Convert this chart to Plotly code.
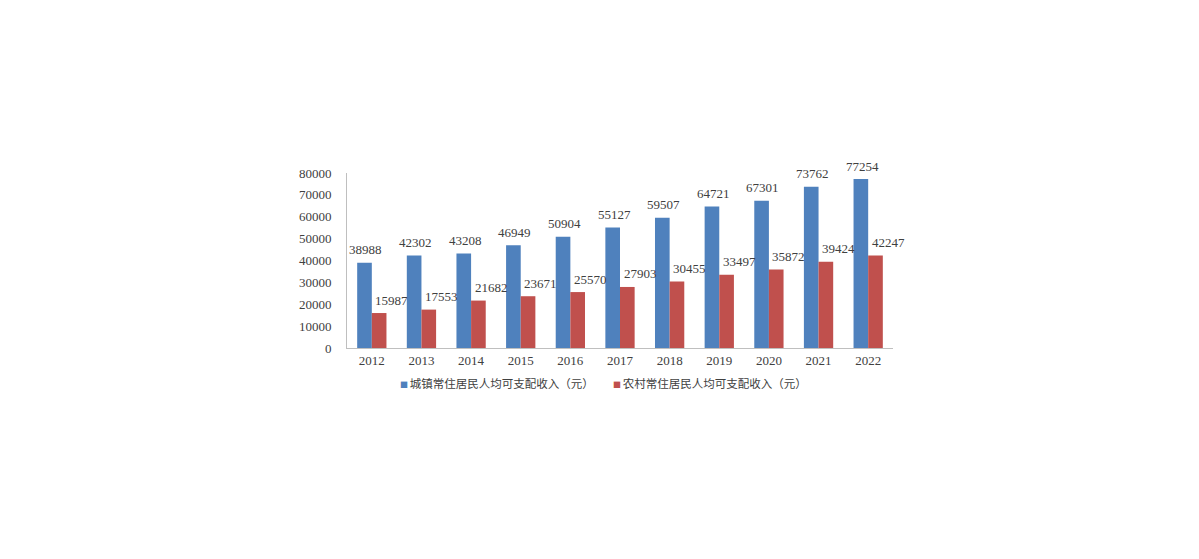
import plotly.graph_objects as go

years = ['2012', '2013', '2014', '2015', '2016', '2017', '2018', '2019', '2020', '2021', '2022']
urban = [38988, 42302, 43208, 46949, 50904, 55127, 59507, 64721, 67301, 73762, 77254]
rural = [15987, 17553, 21682, 23671, 25570, 27903, 30455, 33497, 35872, 39424, 42247]
y_ticks = [0, 10000, 20000, 30000, 40000, 50000, 60000, 70000, 80000]
names = ['城镇常住居民人均可支配收入（元）', '农村常住居民人均可支配收入（元）']
colors = ['#4F81BD', '#C0504D']

num_font = dict(family='Liberation Serif, serif', size=13, color='#404040')

fig = go.Figure()
fig.add_trace(go.Bar(x=years, y=urban, name=names[0],
                     marker=dict(color=colors[0], line=dict(width=0))))
fig.add_trace(go.Bar(x=years, y=rural, name=names[1],
                     marker=dict(color=colors[1], line=dict(width=0))))

# value labels (x as category index, shifted in pixels like the excel original)
for i in range(len(years)):
    fig.add_annotation(x=i, y=urban[i], text=str(urban[i]), showarrow=False,
                       xshift=-6, yshift=13, font=num_font)
    fig.add_annotation(x=i, y=rural[i], text=str(rural[i]), showarrow=False,
                       xshift=20, yshift=13, font=num_font)

# legend drawn as text with a small coloured square in front
leg_x = [0.093, 0.484]
for j in range(2):
    fig.add_annotation(xref='paper', yref='paper', x=leg_x[j], y=-0.2,
                       xanchor='left', yanchor='middle', showarrow=False,
                       text='<span style="color:%s;font-size:8px">■ </span>%s' % (colors[j], names[j]),
                       font=dict(family='Noto Sans CJK SC', size=11.5, color='#404040'))

# page body has an 8px margin, so margins are offset by 8
fig.update_layout(
    width=1199, height=559,
    margin=dict(l=339, r=314, t=165, b=219, autoexpand=False),
    paper_bgcolor='white', plot_bgcolor='white',
    barmode='group', bargap=0.41, bargroupgap=0,
    showlegend=False,
    xaxis=dict(type='category', range=[-0.5, len(years) - 0.5], showline=True,
               linecolor='#BFBFBF', linewidth=1, ticks='',
               tickfont=dict(family='Liberation Serif, serif', size=13, color='#404040')),
    yaxis=dict(range=[0, 80000], tickvals=y_ticks, tickformat='d', showgrid=False, zeroline=False,
               showline=True, linecolor='#BFBFBF', linewidth=1, ticks='',
               ticklabelstandoff=12,
               tickfont=dict(family='Liberation Serif, serif', size=13, color='#404040')),
)

fig.write_html('out.html')
